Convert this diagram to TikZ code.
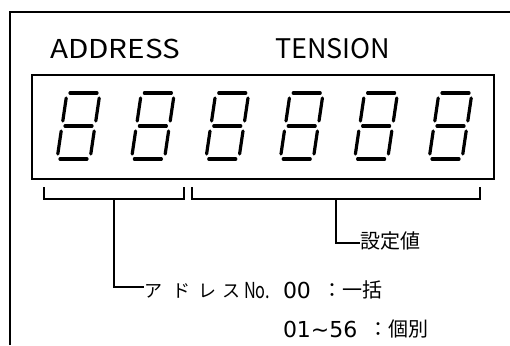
\documentclass[tikz,border=0pt]{standalone}
\usepackage{fontspec}
\setmainfont{Noto Sans CJK JP}
\newfontfamily\dvs{DejaVu Sans}
\begin{document}
\begin{tikzpicture}[x=1pt,y=-1pt,
  frameline/.style={line width=1.6pt},
  boxline/.style={line width=2.4pt},
  seg/.style={line width=3.2pt,line cap=round},
  brk/.style={line width=1.3pt},
  lbl/.style={inner sep=0pt,outer sep=0pt,anchor=base west}]
\useasboundingbox (0,0) rectangle (510,345);
% outer frame (cropped)
\coordinate (fbl) at (10,345);
\coordinate (ftl) at (10,12);
\coordinate (ftr) at (510,12);
\draw[frameline] (fbl) -- (ftl) -- (ftr);
% display box
\node[draw,boxline,minimum width=462pt,minimum height=104pt,inner sep=0pt,anchor=north west] (disp) at (31,74) {};
% digits
\foreach \o in {0,74.4,148.8,223.2,297.6,372}{
  \begin{scope}[xshift=\o pt]
    \draw[seg] (70,93) -- (97,93);
    \draw[seg] (65,126) -- (92,126);
    \draw[seg] (60,159) -- (87,159);
    \draw[seg] (66.2,98) -- (62.8,121);
    \draw[seg] (99.2,98) -- (95.8,121);
    \draw[seg] (61.2,131) -- (57.8,154);
    \draw[seg] (94.2,131) -- (90.8,154);
  \end{scope}
}
% titles
\node[lbl] (taddr) at (50,58) {\fontsize{26}{26}\selectfont\scalebox{1.14}[1]{ADDRESS}};
\node[lbl] (tten) at (275,58.5) {\fontsize{27}{27}\selectfont TENSION};
% brackets
\coordinate (b1a) at (44,187); \coordinate (b1b) at (44,199);
\coordinate (b1c) at (184,199); \coordinate (b1d) at (184,187);
\draw[brk] (b1a) -- (b1b) -- (b1c) -- (b1d);
\coordinate (b2a) at (192,187); \coordinate (b2b) at (192,199);
\coordinate (b2c) at (480,199); \coordinate (b2d) at (480,187);
\draw[brk] (b2a) -- (b2b) -- (b2c) -- (b2d);
% labels
\node[lbl] (setv) at (360,248) {\fontsize{20}{20}\selectfont 設定値};
\node[lbl] (k1) at (144,297) {\fontsize{18}{18}\selectfont ア};
\node[lbl] (k2) at (172,297) {\fontsize{18}{18}\selectfont ド};
\node[lbl] (k3) at (198,297) {\fontsize{18}{18}\selectfont レ};
\node[lbl] (k4) at (222,297) {\fontsize{18}{18}\selectfont ス};
\node[lbl] (no) at (244,298) {\fontsize{22}{22}\selectfont\scalebox{0.74}[1]{No.}};
\node[lbl] (z0) at (283,298) {\dvs\fontsize{22}{22}\selectfont 00};
\node[lbl] (c1) at (322,297) {\fontsize{20}{20}\selectfont ：一括};
\node[lbl] (r2) at (283,337) {\dvs\fontsize{22}{22}\selectfont 01\char"007E 56};
\node[lbl] (c2) at (368,336) {\fontsize{20}{20}\selectfont ：個別};
% stems
\coordinate (s1) at (114,199);
\draw[brk] (s1) |- (k1.west |- 0,287) coordinate (s1e);
\coordinate (s2) at (336,199);
\draw[brk] (s2) |- (setv.west |- 0,243) coordinate (s2e);
\end{tikzpicture}
\end{document}
